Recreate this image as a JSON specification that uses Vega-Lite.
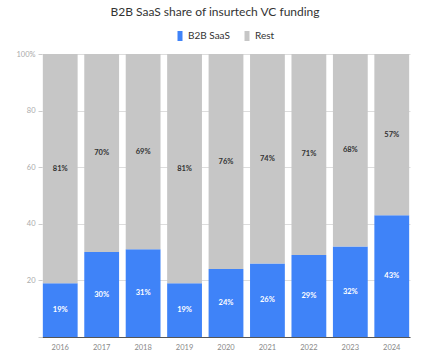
{
  "$schema": "https://vega.github.io/schema/vega-lite/v6.json",
  "width": 368,
  "height": 283,
  "autosize": {"type": "none"},
  "padding": {"left": 42, "top": 54, "right": 29, "bottom": 21},
  "background": "white",
  "title": {
    "text": "B2B SaaS share of insurtech VC funding",
    "fontSize": 12,
    "font": "Lato",
    "fontWeight": "normal",
    "color": "#333333",
    "anchor": "middle",
    "dx": -11,
    "offset": 12
  },
  "config": {
    "view": {"stroke": null},
    "font": "Lato"
  },
  "data": {
    "values": [
      {"year": "2016", "series": "B2B SaaS", "value": 19, "order": 1},
      {"year": "2016", "series": "Rest", "value": 81, "order": 2},
      {"year": "2017", "series": "B2B SaaS", "value": 30, "order": 1},
      {"year": "2017", "series": "Rest", "value": 70, "order": 2},
      {"year": "2018", "series": "B2B SaaS", "value": 31, "order": 1},
      {"year": "2018", "series": "Rest", "value": 69, "order": 2},
      {"year": "2019", "series": "B2B SaaS", "value": 19, "order": 1},
      {"year": "2019", "series": "Rest", "value": 81, "order": 2},
      {"year": "2020", "series": "B2B SaaS", "value": 24, "order": 1},
      {"year": "2020", "series": "Rest", "value": 76, "order": 2},
      {"year": "2021", "series": "B2B SaaS", "value": 26, "order": 1},
      {"year": "2021", "series": "Rest", "value": 74, "order": 2},
      {"year": "2022", "series": "B2B SaaS", "value": 29, "order": 1},
      {"year": "2022", "series": "Rest", "value": 71, "order": 2},
      {"year": "2023", "series": "B2B SaaS", "value": 32, "order": 1},
      {"year": "2023", "series": "Rest", "value": 68, "order": 2},
      {"year": "2024", "series": "B2B SaaS", "value": 43, "order": 1},
      {"year": "2024", "series": "Rest", "value": 57, "order": 2}
    ]
  },
  "transform": [
    {"stack": "value", "groupby": ["year"], "sort": [{"field": "order", "order": "ascending"}], "as": ["y0", "y1"]},
    {"calculate": "(datum.y0 + datum.y1) / 2", "as": "ymid"},
    {"calculate": "datum.value + '%'", "as": "label"}
  ],
  "encoding": {
    "x": {
      "field": "year",
      "type": "ordinal",
      "scale": {"paddingInner": 0.16, "paddingOuter": 0.02},
      "axis": {
        "title": null,
        "labelAngle": 0,
        "labelFontSize": 7.5,
        "labelColor": "#888888",
        "ticks": false,
        "domainColor": "#555555",
        "labelPadding": 6
      }
    },
    "y": {
      "field": "y0",
      "type": "quantitative",
      "scale": {"domain": [0, 100], "nice": false},
      "axis": {
        "title": null,
        "values": [0, 20, 40, 60, 80, 100],
        "labelExpr": "datum.value == 100 ? '100%' : datum.value == 0 ? '' : datum.label",
        "labelFontSize": 7.5,
        "labelColor": "#aaaaaa",
        "labelOverlap": false,
        "domain": false,
        "tickColor": "#cccccc",
        "tickSize": 4,
        "gridColor": "#dddddd",
        "labelPadding": 3
      }
    }
  },
  "layer": [
    {
      "mark": {"type": "bar"},
      "encoding": {
        "y2": {"field": "y1"},
        "color": {
          "field": "series",
          "type": "nominal",
          "scale": {"domain": ["B2B SaaS", "Rest"], "range": ["#3F83F8", "#C6C6C6"]},
          "legend": {
            "title": null,
            "orient": "none",
            "direction": "horizontal",
            "legendX": 133,
            "legendY": -23,
            "symbolType": "M-0.5,-1H0.5V1H-0.5Z",
            "symbolSize": 100,
            "symbolStrokeWidth": 0,
            "labelFontSize": 10,
            "labelColor": "#333333",
            "columnPadding": 12,
            "labelOffset": 3
          }
        }
      }
    },
    {
      "mark": {"type": "text", "fontSize": 7.5, "fontWeight": "bold", "baseline": "middle"},
      "encoding": {
        "y": {"field": "ymid", "type": "quantitative"},
        "text": {"field": "label", "type": "nominal"},
        "detail": {"field": "series"},
        "color": {
          "condition": {"test": "datum.series == 'B2B SaaS'", "value": "#ffffff"},
          "value": "#333333"
        }
      }
    }
  ]
}
